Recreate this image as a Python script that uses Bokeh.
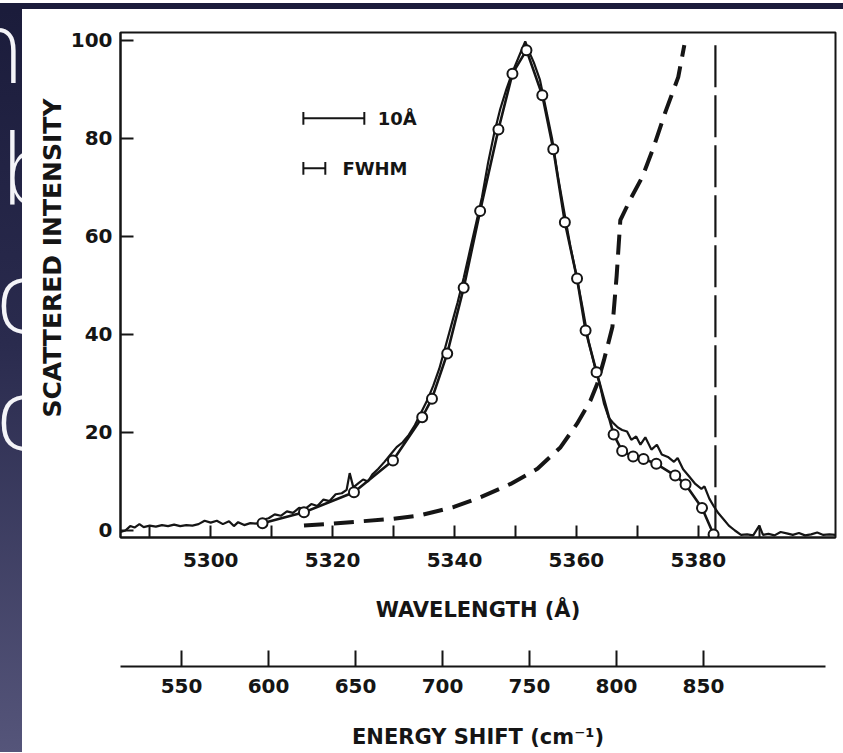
from bokeh.plotting import figure
from bokeh.models import Range1d, LinearAxis, FixedTicker, Label, Title, Div
from bokeh.layouts import row, column
from bokeh.embed import file_html
from bokeh.resources import INLINE

# ---------------- data ----------------
# measured spectrum (noisy trace)
trace_wl = [5285.2, 5286.0, 5286.8, 5287.5, 5288.3, 5289.0, 5290.0, 5291.0, 5292.0, 5293.0,
            5294.0, 5295.0, 5296.0, 5297.0, 5298.0, 5299.0, 5300.0, 5301.0, 5302.0, 5303.0,
            5303.8, 5304.5, 5305.5, 5306.5, 5307.5, 5308.5, 5309.5, 5310.5, 5311.5, 5312.5,
            5313.5, 5314.5, 5315.5, 5316.5, 5317.5, 5318.5, 5319.5, 5320.5, 5321.5, 5322.3,
            5322.8, 5323.4, 5324.2, 5325.0, 5325.8, 5326.5, 5327.5, 5328.5, 5329.5, 5330.5,
            5331.5, 5332.5, 5333.5, 5334.5, 5335.5, 5336.5, 5337.5, 5338.5, 5339.5, 5340.5,
            5341.5, 5342.5, 5343.5, 5344.5, 5345.5, 5346.5, 5347.5, 5348.5, 5349.5, 5350.5,
            5351.6, 5352.3, 5353.0, 5354.0, 5355.0, 5356.0, 5357.0, 5358.0, 5359.0, 5360.0,
            5361.0, 5362.0, 5363.0, 5363.8, 5364.5, 5365.3, 5366.0, 5366.8, 5367.5, 5368.3,
            5369.0, 5369.8, 5370.5, 5371.3, 5372.3, 5373.2, 5374.0, 5375.0, 5376.0, 5376.6,
            5377.5, 5378.5, 5379.5, 5380.5, 5381.0, 5381.8, 5382.5, 5383.3, 5384.2, 5385.0,
            5386.0, 5387.0, 5388.0, 5389.0, 5390.0, 5390.6, 5391.5, 5392.5, 5393.5, 5394.5,
            5395.5, 5396.5, 5397.5, 5398.5, 5399.5, 5400.5, 5401.5, 5402.5]
trace_int = [-0.3, 0.0, 0.9, 0.6, 1.3, 0.7, 1.0, 0.8, 1.1, 0.9,
             1.2, 0.9, 1.1, 1.0, 1.3, 2.0, 1.6, 2.0, 1.3, 1.9,
             0.9, 1.7, 1.1, 1.5, 1.4, 2.2, 2.5, 3.3, 3.0, 3.9,
             3.6, 4.6, 4.4, 5.4, 5.0, 6.3, 6.0, 7.4, 7.6, 8.3,
             11.7, 8.8, 9.6, 10.4, 10.0, 11.4, 12.6, 14.0, 15.5, 17.0,
             18.0, 19.5, 21.5, 24.0, 26.5, 29.5, 33.0, 37.5, 42.0, 46.5,
             51.5, 57.0, 62.5, 68.0, 75.0, 81.0, 86.0, 90.0, 93.5, 96.5,
             99.8, 97.5, 95.5, 92.0, 86.0, 80.0, 72.0, 65.0, 58.0, 52.0,
             45.5, 38.5, 33.5, 30.0, 26.0, 23.0, 22.0, 21.0, 20.5, 20.2,
             18.5, 19.2, 17.5, 19.0, 16.5, 17.5, 15.5, 15.0, 14.0, 14.8,
             12.5, 11.0, 9.5, 8.5, 9.0, 6.5, 5.0, 3.5, 2.2, 1.0,
             0.0, -0.9, -0.8, -1.0, 1.0, -0.9, -0.7, -1.0, -0.3, -0.6,
             -0.9, -0.5, -1.0, -0.8, -0.4, -0.9, -0.8, -0.9]

# calculated points (open circles)
calc_wl = [5308.5, 5315.3, 5323.5, 5329.9, 5334.7, 5336.3, 5338.8, 5341.5, 5344.2, 5347.2,
           5349.5, 5351.8, 5354.4, 5356.2, 5358.1, 5360.1, 5361.5, 5363.3, 5366.1, 5367.5,
           5369.3, 5371.0, 5373.1, 5376.2, 5377.9, 5380.6, 5382.5]
calc_int = [1.5, 3.7, 7.8, 14.3, 23.1, 26.9, 36.1, 49.5, 65.2, 81.8,
            93.2, 98.0, 88.8, 77.8, 62.9, 51.4, 40.8, 32.3, 19.6, 16.2,
            15.1, 14.6, 13.6, 11.2, 9.4, 4.6, -0.8]

# dashed curve
dash_wl = [5315.3, 5320.0, 5325.0, 5330.0, 5334.4, 5339.9, 5344.3, 5349.2, 5353.6, 5357.4,
           5360.1, 5362.3, 5363.4, 5364.5, 5365.9, 5366.6, 5367.2, 5368.9, 5370.8, 5372.6,
           5374.6, 5376.7, 5377.7]
dash_int = [1.0, 1.4, 1.9, 2.4, 3.1, 4.8, 6.8, 9.5, 12.6, 17.0,
            21.8, 26.5, 29.9, 34.7, 41.5, 52.0, 63.3, 67.7, 72.1, 78.0,
            85.4, 92.5, 99.0]

# vertical dashed marker
cutoff_wl = [5382.8, 5382.8]
cutoff_int = [99.0, -1.43]

x_major_ticks = [5300, 5320, 5340, 5360, 5380]
x_minor_ticks = [5290, 5310, 5330, 5350, 5370, 5390]
y_ticks = [0, 20, 40, 60, 80, 100]
energy_ticks = [550, 600, 650, 700, 750, 800, 850]

# scale-bar annotations (wavelength start, end, intensity level)
bar_10A = (5315.2, 5325.2, 84.1)
bar_fwhm = (5315.2, 5318.8, 73.9)

# ---------------- styling ----------------
FONT = "DejaVu Sans"
INK = "#151515"
SLIDE = "#1b1c3b"

p = figure(width=820, height=743,
           x_range=Range1d(5285.2, 5402.5), y_range=Range1d(-1.43, 101.6),
           output_backend="svg", toolbar_location=None,
           min_border_left=98, min_border_right=7, min_border_top=23, min_border_bottom=215,
           background_fill_color="white", border_fill_color="white",
           outline_line_color=INK, outline_line_width=2, margin=(0, 0, 0, 0))
p.grid.visible = False

# bottom wavelength axis
xa = p.xaxis[0]
xa.ticker = FixedTicker(ticks=x_major_ticks, minor_ticks=x_minor_ticks)
xa.major_tick_in = 12
xa.major_tick_out = 0
xa.minor_tick_in = 12
xa.minor_tick_out = 0
xa.major_tick_line_width = 2
xa.minor_tick_line_width = 2
xa.major_tick_line_color = INK
xa.minor_tick_line_color = INK
xa.axis_line_width = 2
xa.axis_line_color = INK
xa.major_label_text_font = FONT
xa.major_label_text_font_size = "20px"
xa.major_label_text_font_style = "bold"
xa.major_label_text_color = INK
xa.major_label_standoff = 15
xa.axis_label = "WAVELENGTH (Å)"
xa.axis_label_text_font = FONT
xa.axis_label_text_font_size = "21px"
xa.axis_label_text_font_style = "bold"
xa.axis_label_text_color = INK
xa.axis_label_standoff = 28

# left intensity axis
ya = p.yaxis[0]
ya.ticker = FixedTicker(ticks=y_ticks, minor_ticks=[])
ya.major_tick_in = 13
ya.major_tick_out = 0
ya.minor_tick_in = 0
ya.minor_tick_out = 0
ya.major_tick_line_width = 2
ya.major_tick_line_color = INK
ya.axis_line_width = 2
ya.axis_line_color = INK
ya.major_label_text_font = FONT
ya.major_label_text_font_size = "20px"
ya.major_label_text_font_style = "bold"
ya.major_label_text_color = INK
ya.major_label_standoff = 8

# y title as a side title; its end sits a fixed offset below the frame top, like the original
p.add_layout(Title(text="SCATTERED INTENSITY", align="right", offset=66, standoff=2,
                   text_font=FONT, text_font_size="25px", text_font_style="bold",
                   text_color=INK), "left")

# spacer between the wavelength label and the energy axis
p.add_layout(Title(text=" ", text_font_size="10px", standoff=29), "below")

# energy shift axis
p.extra_x_ranges = {"energy": Range1d(514.9, 925.9)}
ea = LinearAxis(x_range_name="energy", ticker=FixedTicker(ticks=energy_ticks, minor_ticks=[]),
                bounds=(514.9, 920))
ea.major_tick_in = 16
ea.major_tick_out = 0
ea.minor_tick_in = 0
ea.minor_tick_out = 0
ea.major_tick_line_width = 2
ea.major_tick_line_color = INK
ea.axis_line_width = 2
ea.axis_line_color = INK
ea.major_label_text_font = FONT
ea.major_label_text_font_size = "20px"
ea.major_label_text_font_style = "bold"
ea.major_label_text_color = INK
ea.major_label_standoff = 12
ea.axis_label = "ENERGY SHIFT (cm⁻¹)"
ea.axis_label_text_font = FONT
ea.axis_label_text_font_size = "21px"
ea.axis_label_text_font_style = "bold"
ea.axis_label_text_color = INK
ea.axis_label_standoff = 29
p.add_layout(ea, "below")

# curves
p.line(dash_wl, dash_int, line_width=4, line_color=INK, line_dash="20 10")
p.line(cutoff_wl, cutoff_int, line_width=2.2, line_color=INK, line_dash="42 8")
p.line(trace_wl, trace_int, line_width=2.2, line_color=INK)
p.line(calc_wl, calc_int, line_width=2.6, line_color=INK)
p.scatter(calc_wl, calc_int, size=10, marker="circle", fill_color="white",
          line_color=INK, line_width=2)

# scale bars
cap = 1.3
for (x0, x1, yb) in (bar_10A, bar_fwhm):
    p.segment(x0=[x0, x0, x1], y0=[yb, yb - cap, yb - cap], x1=[x1, x0, x1], y1=[yb, yb + cap, yb + cap],
              line_width=2, line_color=INK)
p.add_layout(Label(x=5327.4, y=bar_10A[2], text="10Å", text_align="left", text_baseline="middle",
                   text_font=FONT, text_font_size="18px", text_font_style="bold", text_color=INK))
p.add_layout(Label(x=5321.6, y=bar_fwhm[2], text="FWHM", text_align="left", text_baseline="middle",
                   text_font=FONT, text_font_size="18px", text_font_style="bold", text_color=INK))

# dark slide background: strip along the top and the left edge, with partly hidden letters
top_html = ('<div style="position:relative;width:843px;height:9px;overflow:hidden;background:%s;">'
            '<span style="position:absolute;left:699px;top:6px;width:9px;height:3px;'
            'background:#e8e8f0;"></span></div>' % SLIDE)
top_strip = Div(text=top_html, width=843, height=9, margin=(0, 0, 0, 0),
                styles={"overflow": "hidden"})

letters = [("n", -36, -17), ("b", -1, 105), ("c", -5, 233), ("c", -5, 350)]
spans = "".join(
    f'<span style="position:absolute;left:{lx}px;top:{ty}px;font-family:\'DejaVu Sans\';'
    f'font-weight:200;font-size:98px;line-height:normal;color:#f4f4f8;">{ch}</span>'
    for ch, lx, ty in letters)
strip_html = ('<div style="position:relative;width:22px;height:743px;overflow:hidden;'
              'background:linear-gradient(to bottom,#1b1c3b 0%,#2a2b4e 45%,#55557a 100%);">'
              + spans + '</div>')
left_strip = Div(text=strip_html, width=22, height=743, margin=(0, 0, 0, 0),
                 styles={"overflow": "hidden"})

layout = column(top_strip, row(left_strip, p, spacing=0), spacing=0)

open("out.html", "w").write(file_html(layout, INLINE))
